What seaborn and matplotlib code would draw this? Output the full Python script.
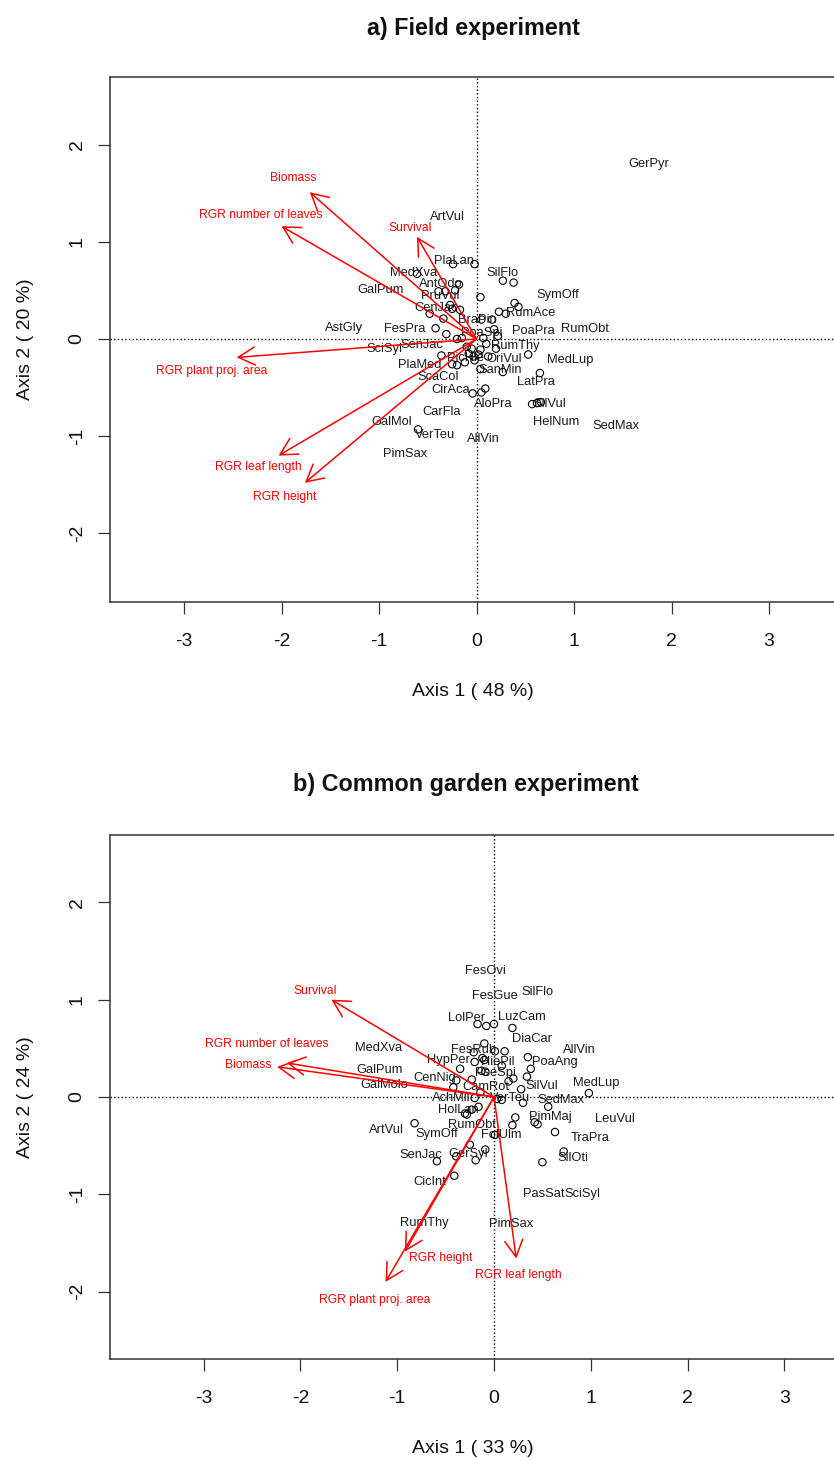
import matplotlib
matplotlib.use("Agg")
import matplotlib.pyplot as plt
import seaborn as sns
import pandas as pd

# ---------------- a) Field experiment ----------------
a_trait = ["Biomass", "RGR number of leaves", "Survival", "RGR plant proj. area",
           "RGR leaf length", "RGR height"]
a_trait_x = [-1.71, -2.00, -0.61, -2.46, -2.03, -1.76]
a_trait_y = [1.51, 1.16, 1.05, -0.19, -1.20, -1.48]
a_trait_lx = [-1.88, -2.21, -0.68, -2.72, -2.24, -1.97]
a_trait_ly = [1.66, 1.28, 1.14, -0.33, -1.32, -1.63]

a_sp = ["GerPyr", "ArtVul", "PlaLan", "SilFlo", "MedXva", "AntOdo", "SymOff", "GalPum",
        "PruVul", "CenJac", "RumAce", "BraPin", "AstGly", "FesPra", "PoaSpi", "PoaPra",
        "RumObt", "SciSyl", "SenJac", "RumThy", "PlaMed", "PicHie", "OriVul", "MedLup",
        "SanMin", "ScaCol", "LatPra", "CirAca", "AloPra", "SilVul", "CarFla", "GalMol",
        "HelNum", "SedMax", "VerTeu", "AllVin", "PimSax"]
a_sp_x = [1.77, -0.30, -0.23, 0.27, -0.65, -0.37, 0.83, -0.98,
          -0.37, -0.41, 0.55, 0.01, -1.36, -0.74, 0.05, 0.58,
          1.11, -0.95, -0.56, 0.40, -0.58, -0.11, 0.28, 0.96,
          0.24, -0.39, 0.61, -0.27, 0.17, 0.75, -0.36, -0.87,
          0.82, 1.43, -0.43, 0.07, -0.73]
a_sp_y = [1.80, 1.25, 0.80, 0.68, 0.68, 0.57, 0.45, 0.50,
          0.44, 0.32, 0.27, 0.20, 0.11, 0.10, 0.06, 0.08,
          0.10, -0.10, -0.06, -0.07, -0.27, -0.20, -0.21, -0.22,
          -0.32, -0.39, -0.44, -0.52, -0.67, -0.67, -0.75, -0.85,
          -0.85, -0.90, -0.99, -1.03, -1.18]

a_pt_x = [-0.24, -0.02, -0.61, 0.27, 0.38, -0.18, -0.39, -0.32, -0.22, 0.04,
          0.39, 0.43, -0.27, -0.25, -0.17, -0.48, -0.34, 0.23, 0.30, 0.05,
          0.16, -0.42, -0.31, -0.20, -0.15, 0.18, 0.22, 0.07, -0.05, 0.04,
          -0.08, 0.20, 0.53, -0.36, -0.25, -0.20, -0.12, -0.03, 0.02, 0.04,
          0.27, 0.65, -0.04, 0.05, 0.09, 0.57, 0.62, 0.66, -0.60, 0.10,
          -0.10, 0.12, -0.02]
a_pt_y = [0.77, 0.77, 0.67, 0.60, 0.58, 0.56, 0.49, 0.49, 0.50, 0.43,
          0.37, 0.33, 0.35, 0.31, 0.30, 0.26, 0.21, 0.28, 0.26, 0.20,
          0.20, 0.11, 0.05, 0.00, 0.01, 0.10, 0.03, 0.01, -0.10, -0.11,
          -0.15, -0.10, -0.16, -0.17, -0.26, -0.27, -0.24, -0.18, -0.16, -0.31,
          -0.34, -0.35, -0.56, -0.55, -0.51, -0.67, -0.66, -0.65, -0.93, -0.05,
          -0.08, -0.18, -0.22]

# ---------------- b) Common garden experiment ----------------
b_trait = ["Survival", "RGR number of leaves", "Biomass", "RGR height",
           "RGR plant proj. area", "RGR leaf length"]
b_trait_x = [-1.68, -2.14, -2.24, -0.92, -1.12, 0.23]
b_trait_y = [1.00, 0.35, 0.31, -1.59, -1.90, -1.66]
b_trait_lx = [-1.85, -2.35, -2.54, -0.55, -1.23, 0.25]
b_trait_ly = [1.09, 0.54, 0.33, -1.65, -2.09, -1.83]

b_sp = ["FesOvi", "FesGue", "SilFlo", "LolPer", "LuzCam", "DiaCar", "AllVin", "FesRub",
        "MedXva", "HypPer", "HiePil", "PoaAng", "GalPum", "CenNig", "PseSpi", "MedLup",
        "GalMolo", "CamRot", "SilVul", "AchMil", "VerTeu", "SedMax", "HolLan", "PimMaj",
        "LeuVul", "RumObt", "ArtVul", "SymOff", "FolUlm", "TraPra", "SenJac", "GerSyl",
        "SilOti", "CicInt", "PasSat", "SciSyl", "RumThy", "PimSax"]
b_sp_x = [-0.09, 0.01, 0.45, -0.28, 0.29, 0.39, 0.88, -0.21,
          -1.19, -0.47, 0.04, 0.63, -1.18, -0.61, 0.01, 1.06,
          -1.13, -0.08, 0.49, -0.44, 0.17, 0.69, -0.37, 0.58,
          1.25, -0.23, -1.11, -0.59, 0.08, 0.99, -0.76, -0.27,
          0.81, -0.66, 0.51, 0.91, -0.72, 0.18]
b_sp_y = [1.30, 1.04, 1.08, 0.81, 0.82, 0.60, 0.48, 0.48,
          0.50, 0.38, 0.36, 0.36, 0.28, 0.20, 0.25, 0.14,
          0.12, 0.10, 0.11, -0.01, -0.01, -0.03, -0.13, -0.21,
          -0.23, -0.29, -0.34, -0.38, -0.39, -0.42, -0.60, -0.59,
          -0.63, -0.87, -1.00, -1.00, -1.29, -1.31]

b_pt_x = [-0.17, -0.08, 0.00, 0.19, -0.10, 0.01, 0.11, 0.35, -0.20, -0.10,
          -0.35, -0.13, -0.09, 0.08, 0.38, -0.23, -0.39, -0.42, 0.15, 0.20,
          0.34, 0.28, -0.14, -0.20, 0.08, 0.03, 0.30, 0.56, 0.98, -0.16,
          -0.23, -0.30, -0.28, 0.22, 0.42, 0.45, 0.19, -0.82, 0.01, 0.63,
          -0.25, -0.09, -0.19, -0.39, -0.59, -0.41, 0.72, 0.50, -0.21, -0.12]
b_pt_y = [0.75, 0.73, 0.75, 0.71, 0.55, 0.47, 0.47, 0.41, 0.36, 0.38,
          0.29, 0.27, 0.26, 0.32, 0.29, 0.18, 0.17, 0.10, 0.16, 0.19,
          0.21, 0.08, 0.05, -0.01, -0.03, -0.02, -0.06, -0.10, 0.04, -0.10,
          -0.13, -0.17, -0.18, -0.21, -0.26, -0.28, -0.29, -0.27, -0.39, -0.36,
          -0.49, -0.54, -0.65, -0.61, -0.66, -0.81, -0.56, -0.67, 0.46, 0.40]

sns.set_style("ticks")
plt.rcParams["font.family"] = ["Liberation Sans", "DejaVu Sans"]

W, H = 834, 1460
fig = plt.figure(figsize=(W / 100, H / 100), dpi=100)


def px_axes(left, right, top, bottom):
    return fig.add_axes([left / W, 1 - bottom / H, (right - left) / W, (bottom - top) / H])


def biplot(ax, px, py, sp, sx, sy, tr, tx, ty, tlx, tly, xlim, ylim, xlab, ylab):
    ax.set_xlim(*xlim)
    ax.set_ylim(*ylim)
    ax.axvline(0, color="black", ls=":", lw=1.0, zorder=1)
    ax.axhline(0, color="black", ls=":", lw=1.0, zorder=1)
    pts = pd.DataFrame({"x": px, "y": py})
    sns.scatterplot(data=pts, x="x", y="y", ax=ax, marker="o", s=28,
                    facecolor="none", edgecolor="black", linewidth=0.8, zorder=3)
    for name, x, y in zip(sp, sx, sy):
        ax.text(x, y, name, ha="center", va="center", fontsize=9.3, color="#1a1a1a", zorder=4)
    for name, x, y, lx, ly in zip(tr, tx, ty, tlx, tly):
        ax.annotate("", xy=(x, y), xytext=(0, 0),
                    arrowprops=dict(arrowstyle="->,head_length=1.2,head_width=0.65",
                                    mutation_scale=10, color="#ff0000", lw=1.1,
                                    shrinkA=0, shrinkB=0), zorder=5)
        ax.text(lx, ly, name, ha="center", va="center", fontsize=8.7, color="#ff0000", zorder=5)
    ax.set_xticks([-3, -2, -1, 0, 1, 2, 3])
    ax.set_yticks([-2, -1, 0, 1, 2])
    ax.set_yticklabels(["-2", "-1", "0", "1", "2"], rotation=90, va="center")
    ax.set_xticklabels(["-3", "-2", "-1", "0", "1", "2", "3"])
    ax.tick_params(direction="out", length=8.5, width=0.9, labelsize=14, color="#333333",
                   labelcolor="#111111")
    ax.tick_params(axis="x", pad=14)
    ax.tick_params(axis="y", pad=9)
    for s in ax.spines.values():
        s.set_visible(True)
        s.set_linewidth(1.1)
        s.set_color("#333333")
    ax.set_xlabel(xlab, fontsize=14, color="#111111")
    ax.set_ylabel(ylab, fontsize=14, color="#111111")
    ax.xaxis.set_label_coords((473 - 110) / (ax.get_position().width * W), -0.155)
    ax.yaxis.set_label_coords(-0.104 * 735 / (ax.get_position().width * W), 0.5)


def title(text, xc, yc):
    fig.text(xc / W, 1 - yc / H, text, ha="center", va="center",
             fontsize=16.8, fontweight="bold", color="#111111")


# the plot frames run a little past the right edge of the figure
ax1 = px_axes(110, 845, 77, 602)
biplot(ax1, a_pt_x, a_pt_y, a_sp, a_sp_x, a_sp_y, a_trait, a_trait_x, a_trait_y,
       a_trait_lx, a_trait_ly, (-3.759, 3.779), (-2.706, 2.695),
       "Axis 1 ( 48 %)", "Axis 2 ( 20 %)")
title("a) Field experiment", 473, 28)

ax2 = px_axes(110, 845, 835, 1359)
biplot(ax2, b_pt_x, b_pt_y, b_sp, b_sp_x, b_sp_y, b_trait, b_trait_x, b_trait_y,
       b_trait_lx, b_trait_ly, (-3.967, 3.626), (-2.693, 2.693),
       "Axis 1 ( 33 %)", "Axis 2 ( 24 %)")
title("b) Common garden experiment", 466, 784)

fig.savefig("out.png", dpi=100, facecolor="white")
